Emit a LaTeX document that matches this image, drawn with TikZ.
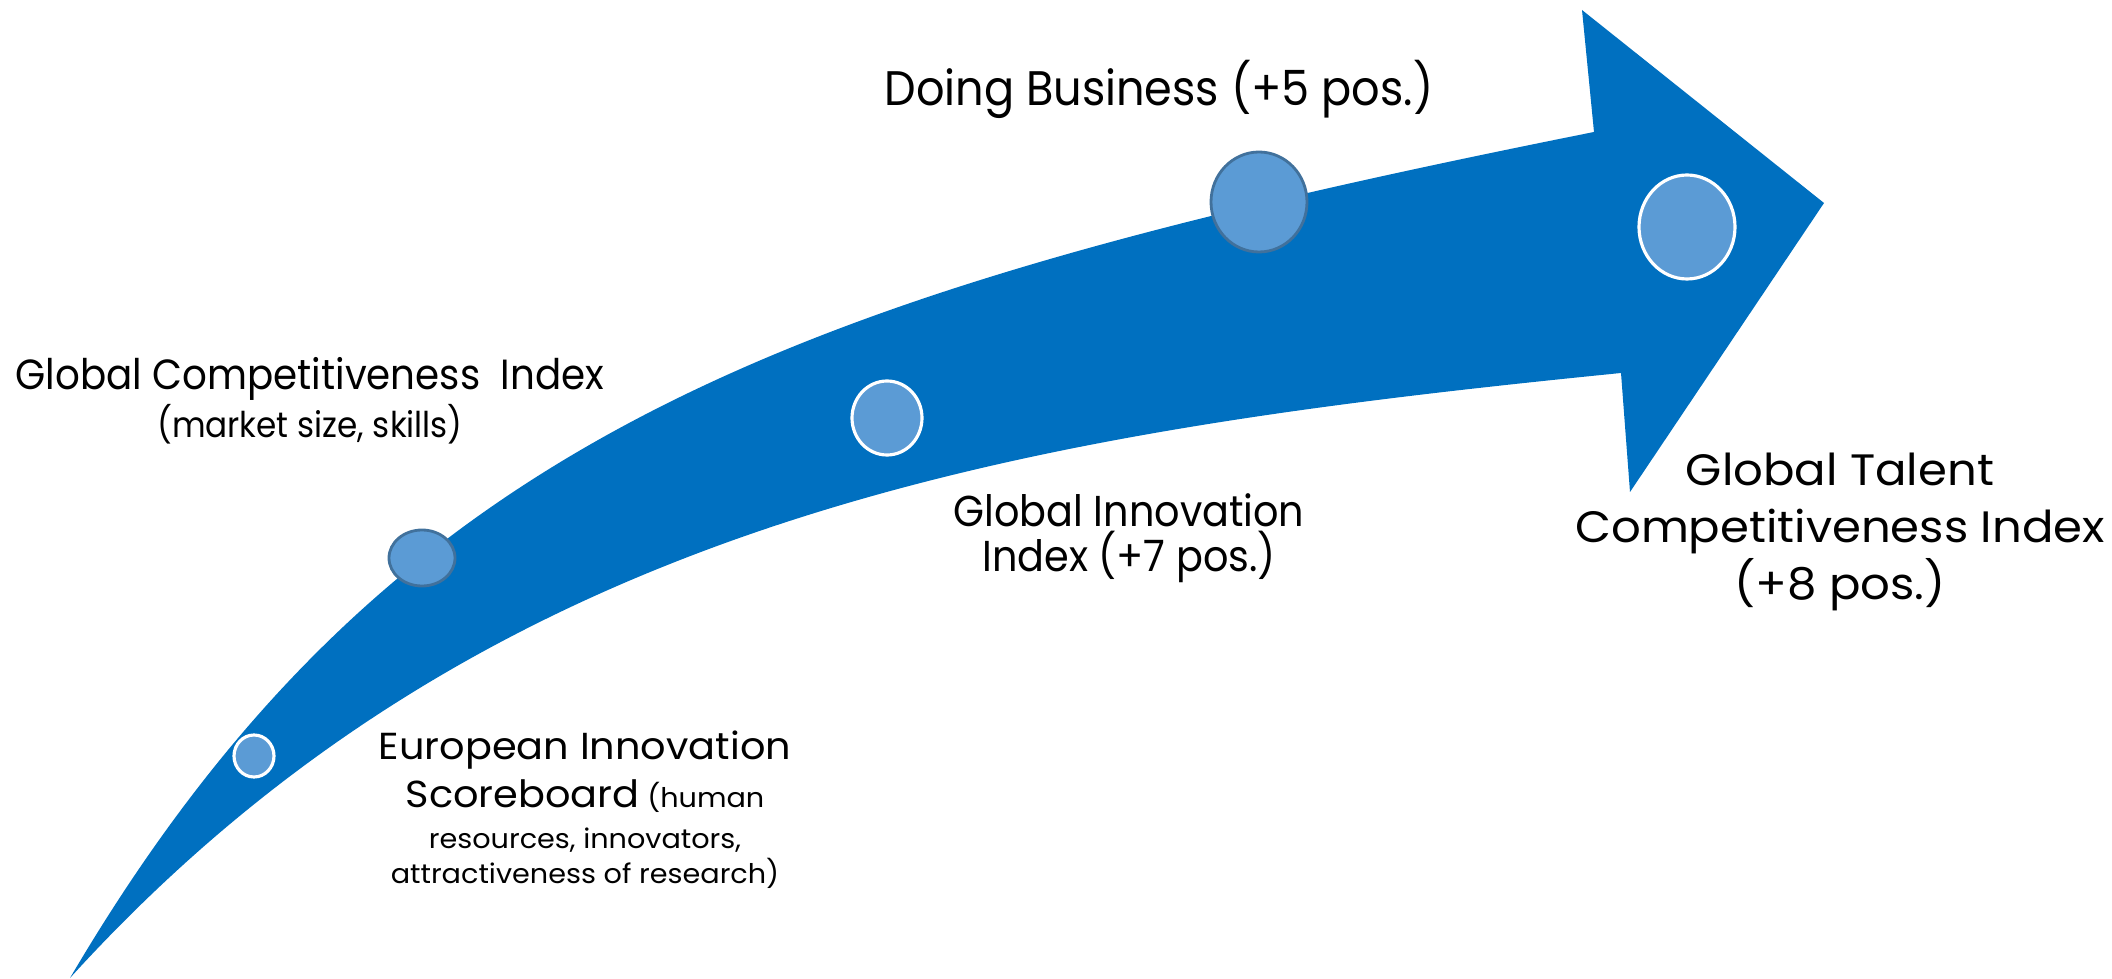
\documentclass[tikz,border=0pt]{standalone}
\usepackage{fontspec}
\setmainfont{Poppins}
\newfontfamily\narrowfont[FakeStretch=0.92]{Poppins}
\newfontfamily\widefont[FakeStretch=1.06]{Poppins}
\usetikzlibrary{shapes.geometric}
\definecolor{arrowblue}{HTML}{0070C0}
\definecolor{dotblue}{HTML}{5B9BD5}
\definecolor{dotrim}{HTML}{41719C}
\tikzset{%
  every dot/.style={
    ellipse,
    fill=dotblue,
    inner sep=0pt
  },
  dot dark/.style={every dot, draw=dotrim, line width=0.8pt},
  dot light/.style={every dot, draw=white, line width=0.9pt},
  label text/.style={align=center, inner sep=0pt, text=black},
}
\begin{document}
\begin{tikzpicture}
        \useasboundingbox (0,0) rectangle (21.12,9.78);

        % the curved arrow
        \fill[arrowblue] (0.70,0.00) .. controls (3.90,5.44) and (7.94,6.86) .. (15.94,8.46)
            -- (15.82,9.68) -- (18.24,7.75) -- (16.30,4.86) -- (16.21,6.05)
            .. controls (10.21,5.45) and (4.90,4.62) .. (0.70,0.00) -- cycle;

        % milestones on the arrow
        \node[dot light, minimum width=4mm, minimum height=4.2mm] (eis) at (2.54,2.22) {};
        \node[dot dark, minimum width=6.6mm, minimum height=5.6mm] (gci) at (4.22,4.20) {};
        \node[dot light, minimum width=7mm, minimum height=7.4mm] (gii) at (8.87,5.60) {};
        \node[dot dark, minimum width=9.6mm, minimum height=10mm] (db) at (12.59,7.76) {};
        \node[dot light, minimum width=9.6mm, minimum height=10.4mm] (gtci) at (16.87,7.51) {};

        % labels
        \node[label text, font=\narrowfont\fontsize{13.8}{16}\selectfont] (dbtext) at (11.59,8.89)
            {Doing Business (+5 pos.)};
        \node[label text, font=\narrowfont\fontsize{12}{11}\selectfont] (gcitext) at (3.10,5.77)
            {Global Competitiveness\ \ Index\\{\fontsize{10.1}{11}\selectfont (market size, skills)}};
        \node[label text, font=\narrowfont\fontsize{12.3}{12.8}\selectfont] (giitext) at (11.29,4.40)
            {Global Innovation\\Index (+7 pos.)};
        \node[label text, font=\widefont\fontsize{12.5}{16.2}\selectfont] (gtcitext) at (18.40,4.46)
            {Global Talent\\Competitiveness Index\\(+8 pos.)};
        \node[label text, font=\widefont\fontsize{7.7}{12.6}\selectfont] (eistext) at (5.85,1.68)
            {{\fontsize{10.7}{12.6}\selectfont European Innovation}\\[1pt]
             {\fontsize{10.7}{12.6}\selectfont Scoreboard} (human\\[-1pt]
             resources, innovators,\\[-2.5pt]
             attractiveness of research)};
\end{tikzpicture}
\end{document}
